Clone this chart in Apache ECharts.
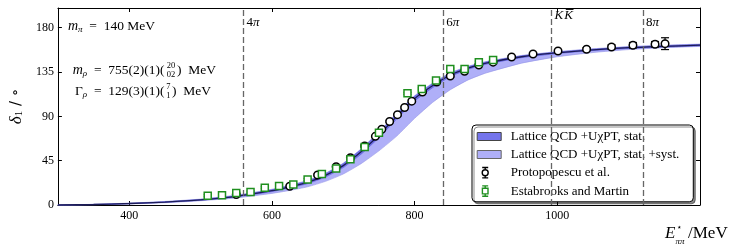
<!DOCTYPE html>
<html><head><meta charset="utf-8">
<script src="https://cdn.jsdelivr.net/npm/echarts@6/dist/echarts.min.js"></script>
<style>html,body{margin:0;padding:0;background:#fff}#c{width:742px;height:247px}</style>
</head><body><div id="c"></div>
<script>
// ---- data ----
const energies = [300,350,400,450,500,550,600,625,650,675,700,725,750,775,800,825,850,875,900,950,1000,1050,1100,1150,1200];
const central  = [0,0.5,1.5,3,5.2,8.8,14.5,18.5,23,30,40,54,71,90,108,121,132,139,144,150.5,154.5,157.5,159.7,161.1,162.3];
const statLow  = [0,0.4,1.3,2.7,4.8,8.2,13.6,17.4,21.7,28.4,38,51.6,68.4,87.4,105.6,119,130.4,137.7,142.9,149.6,153.7,156.8,159,160.4,161.6];
const statHigh = [0,0.6,1.7,3.3,5.6,9.4,15.4,19.6,24.3,31.6,42,56.4,73.6,92.6,110.4,123,133.6,140.3,145.1,151.4,155.3,158.2,160.4,161.8,163];
const systLow  = [0,0.3,1.1,2.3,4.3,7.2,11.8,14.8,18.5,24,31.5,42,55,70,88,104,117,127,134,144,150.5,154.8,157.8,159.7,161];
const systHigh = [0,0.7,1.9,3.6,6,10,16,20.2,25,32.3,42.5,57,74.3,93.3,111,123.7,134.2,140.8,145.6,151.8,155.7,158.6,160.8,162.2,163.4];

const protoE   = [550,625,664,690,710,730,745,754,765,776,786,796,811,831,850,870,890,910,936,966,1001,1041,1076,1106,1137,1151];
const protoD   = [10.7,19,30.5,38.9,48,59.9,69.7,76.9,84.8,91.7,99,105.4,114.7,124.9,131,135.7,142.1,145,150.3,153.3,156.3,158.1,160.4,162.2,163.2,163.8];
const protoErr = [1,1,1,1,1,1,1,1,1,1,1,1,1,1,1,1,1,1,1,1,1,1.5,2.2,2.8,2.8,6];

const estE   = [510,530,550,570,590,610,630,650,670,690,710,730,750,790,810,830,850,870,890,910];
const estD   = [9.4,9.8,12.2,13.2,17.6,19.3,20.8,25.9,31.5,37,46.4,58.9,73.3,113.4,117.8,126.4,138,138,144.9,147.2];
const estErr = [1,1,1,1,1,1,1,1,1,1,1,1,1,1,1,1,1,1,1,1];

const thresholds = [560, 840, 992, 1120];
const thresholdLabels = ['4π', '6π', 'KK̄', '8π'];
const xTicks = [400, 600, 800, 1000];
const yTicks = [0, 45, 90, 135, 180];

const nameStat = 'Lattice QCD +UχPT, stat.';
const nameSyst = 'Lattice QCD +UχPT, stat. +syst.';
const nameProto = 'Protopopescu et al.';
const nameEst = 'Estabrooks and Martin';

// ---- styles ----
const SERIF = "'Liberation Serif', 'DejaVu Serif', serif";
const cDark = '#7474ec', cLight = '#afaff8', cGreen = '#1f8f1f';

const pair = (xs, ys) => xs.map((x, i) => [x, ys[i]]);

function bandRender(lo, hi, fill, edge) {
  return function (params, api) {
    if (params.dataIndex !== 0) return null;
    const top = energies.map((e, i) => api.coord([e, hi[i]]));
    const bot = energies.map((e, i) => api.coord([e, lo[i]]));
    return { type: 'group', children: [
      { type: 'polygon', shape: { points: top.concat(bot.slice().reverse()) }, style: { fill: fill, stroke: 'none' } },
      { type: 'polyline', shape: { points: top, smooth: 0.2 }, style: { fill: 'none', stroke: edge, lineWidth: 0.6 } },
      { type: 'polyline', shape: { points: bot, smooth: 0.2 }, style: { fill: 'none', stroke: edge, lineWidth: 0.6 } }
    ]};
  };
}

function errRender(color) {
  return function (params, api) {
    const x = api.value(0), y = api.value(1), e = api.value(2);
    const hi = api.coord([x, y + e]), lo = api.coord([x, y - e]);
    const w = 4, st = { stroke: color, lineWidth: 1.2 };
    return { type: 'group', children: [
      { type: 'line', shape: { x1: hi[0], y1: hi[1], x2: lo[0], y2: lo[1] }, style: st },
      { type: 'line', shape: { x1: hi[0] - w, y1: hi[1], x2: hi[0] + w, y2: hi[1] }, style: st },
      { type: 'line', shape: { x1: lo[0] - w, y1: lo[1], x2: lo[0] + w, y2: lo[1] }, style: st }
    ]};
  };
}

// threshold labels: drawn next to the top of each dashed line
function thrRender(params, api) {
  const x = api.value(0);
  const lab = thresholdLabels[params.dataIndex];
  const topPt = api.coord([x, 200]);
  const px = topPt[0] + 3;
  const font = { fontFamily: SERIF, fontSize: 13, fill: '#000' };
  const children = [];
  if (lab.indexOf('K') >= 0) {
    const py = topPt[1] + 8;
    const kW = 8.7;
    children.push({ type: 'text', x: px, y: py, style: Object.assign({ text: 'K', fontStyle: 'italic', verticalAlign: 'middle' }, font) });
    children.push({ type: 'text', x: px + kW + 1, y: py, style: Object.assign({ text: 'K', fontStyle: 'italic', verticalAlign: 'middle' }, font) });
    children.push({ type: 'line', shape: { x1: px + kW + 2.5, y1: py - 6.5, x2: px + 2 * kW + 1.5, y2: py - 6.5 }, style: { stroke: '#000', lineWidth: 0.9 } });
  } else {
    const py = topPt[1] + 14.5;
    children.push({ type: 'text', x: px, y: py, style: Object.assign({
      text: '{n|' + lab.replace(/[^0-9]/g, '') + '}{i|' + lab.replace(/[0-9]/g, '') + '}', verticalAlign: 'middle',
      rich: { n: Object.assign({}, font), i: Object.assign({ fontStyle: 'italic' }, font) } }, font) });
  }
  return { type: 'group', children: children };
}

const axisLineStyle = { color: '#000', width: 1 };
const commonX = { type: 'value', min: 300, max: 1200, splitLine: { show: false } };
const commonY = { type: 'value', min: 0, max: 200, splitLine: { show: false } };

const iconBand = 'path://M0,0 M25,12 M0.5,2 L24.5,2 L24.5,10 L0.5,10 Z';
const iconErrCircle = 'path://M0,0 M25,12 M5.5,0.8 L11.5,0.8 M8.5,0.8 L8.5,3 M11.5,6 A3,3 0 1 1 5.5,6 A3,3 0 1 1 11.5,6 Z M8.5,9 L8.5,11.2 M5.5,11.2 L11.5,11.2';
const iconErrSquare = 'path://M0,0 M25,12 M5.5,0.8 L11.5,0.8 M8.5,0.8 L8.5,3 M5.7,3.2 L11.3,3.2 L11.3,8.8 L5.7,8.8 Z M8.5,9 L8.5,11.2 M5.5,11.2 L11.5,11.2';

const chart = echarts.init(document.getElementById('c'), null, { renderer: 'canvas' });

const option = {
  animation: false,
  backgroundColor: '#fff',
  grid: { left: 54, right: 42, top: 8, bottom: 42, show: false },
  xAxis: [
    Object.assign({}, commonX, {
      position: 'bottom',
      axisLine: { show: true, onZero: false, lineStyle: axisLineStyle },
      axisTick: { show: true, inside: true, length: 4, customValues: xTicks, lineStyle: { color: '#000' } },
      axisLabel: { customValues: xTicks, formatter: v => String(v), color: '#000', fontFamily: SERIF, fontSize: 12, margin: 5 }
    }),
    Object.assign({}, commonX, {
      position: 'top',
      axisLine: { show: true, onZero: false, lineStyle: axisLineStyle },
      axisTick: { show: true, inside: true, length: 4, customValues: xTicks, lineStyle: { color: '#000' } },
      axisLabel: { show: false }
    })
  ],
  yAxis: [
    Object.assign({}, commonY, {
      position: 'left',
      axisLine: { show: true, onZero: false, lineStyle: axisLineStyle },
      axisTick: { show: true, inside: true, length: 4, customValues: yTicks, lineStyle: { color: '#000' } },
      axisLabel: { customValues: yTicks, formatter: v => String(v), color: '#000', fontFamily: SERIF, fontSize: 12, margin: 4 },
      name: '{d|δ}{s|1}{n| / ∘}',
      nameLocation: 'middle',
      nameRotate: 90,
      nameGap: 30,
      nameTextStyle: {
        rich: {
          d: { fontFamily: SERIF, fontStyle: 'italic', fontSize: 17, color: '#000' },
          s: { fontFamily: SERIF, fontSize: 11, color: '#000', verticalAlign: 'bottom', lineHeight: 10 },
          n: { fontFamily: "'DejaVu Serif', serif", fontSize: 15, color: '#000' }
        }
      }
    }),
    Object.assign({}, commonY, {
      position: 'right',
      axisLine: { show: true, onZero: false, lineStyle: axisLineStyle },
      axisTick: { show: true, inside: true, length: 4, customValues: yTicks, lineStyle: { color: '#000' } },
      axisLabel: { show: false }
    })
  ],
  legend: {
    orient: 'vertical',
    left: 472, top: 125,
    padding: [5, 14, 4, 4],
    itemWidth: 25, itemHeight: 12, itemGap: 5,
    backgroundColor: '#fff',
    borderColor: '#000', borderWidth: 1, borderRadius: 4,
    shadowColor: 'rgba(0,0,0,0.45)', shadowBlur: 0, shadowOffsetX: 2, shadowOffsetY: 2,
    selectedMode: false,
    textStyle: { fontFamily: SERIF, fontSize: 13, color: '#000', padding: [0, 0, 0, 4] },
    data: [
      { name: nameStat, icon: iconBand, itemStyle: { color: cDark, borderColor: '#444', borderWidth: 1 } },
      { name: nameSyst, icon: iconBand, itemStyle: { color: cLight, borderColor: '#666', borderWidth: 1 } },
      { name: nameProto, icon: iconErrCircle, itemStyle: { color: '#fff', borderColor: '#000', borderWidth: 1.4 } },
      { name: nameEst, icon: iconErrSquare, itemStyle: { color: '#fff', borderColor: cGreen, borderWidth: 1.4 } }
    ]
  },
  graphic: [
    { type: 'text', x: 68, y: 26, style: {
        text: '{i|m}{s|π}{n|  =  140 MeV}', verticalAlign: 'middle',
        rich: {
          i: { fontFamily: SERIF, fontStyle: 'italic', fontSize: 14, fill: '#000', lineHeight: 16 },
          s: { fontFamily: SERIF, fontStyle: 'italic', fontSize: 9, fill: '#000', verticalAlign: 'bottom', lineHeight: 8 },
          n: { fontFamily: SERIF, fontSize: 13.5, fill: '#000', lineHeight: 16 }
        } } },
    { type: 'text', x: 164.5, y: 70, style: {
        text: '{i|m}{s|ρ}{n|  =  755(2)(1)(}', align: 'right', verticalAlign: 'middle',
        rich: {
          i: { fontFamily: SERIF, fontStyle: 'italic', fontSize: 14, fill: '#000', lineHeight: 16 },
          s: { fontFamily: SERIF, fontStyle: 'italic', fontSize: 9, fill: '#000', verticalAlign: 'bottom', lineHeight: 8 },
          n: { fontFamily: SERIF, fontSize: 13.5, fill: '#000', lineHeight: 16 }
        } } },
    { type: 'text', x: 171, y: 66, style: { text: '20', align: 'center', verticalAlign: 'middle', fontFamily: SERIF, fontSize: 8.5, fill: '#000' } },
    { type: 'text', x: 171, y: 75, style: { text: '02', align: 'center', verticalAlign: 'middle', fontFamily: SERIF, fontSize: 8.5, fill: '#000' } },
    { type: 'text', x: 177, y: 70, style: { text: ')  MeV', verticalAlign: 'middle', fontFamily: SERIF, fontSize: 13.5, fill: '#000' } },
    { type: 'text', x: 164.5, y: 91, style: {
        text: '{n|Γ}{s|ρ}{n|  =  129(3)(1)(}', align: 'right', verticalAlign: 'middle',
        rich: {
          s: { fontFamily: SERIF, fontStyle: 'italic', fontSize: 9, fill: '#000', verticalAlign: 'bottom', lineHeight: 8 },
          n: { fontFamily: SERIF, fontSize: 13.5, fill: '#000', lineHeight: 16 }
        } } },
    { type: 'text', x: 168.3, y: 87, style: { text: '7', align: 'center', verticalAlign: 'middle', fontFamily: SERIF, fontSize: 8.5, fill: '#000' } },
    { type: 'text', x: 168.3, y: 96, style: { text: '1', align: 'center', verticalAlign: 'middle', fontFamily: SERIF, fontSize: 8.5, fill: '#000' } },
    { type: 'text', x: 172, y: 91, style: { text: ')  MeV', verticalAlign: 'middle', fontFamily: SERIF, fontSize: 13.5, fill: '#000' } },
    // x-axis name
    { type: 'text', x: 665, y: 234, style: { text: 'E', verticalAlign: 'middle', fontFamily: SERIF, fontStyle: 'italic', fontSize: 17, fill: '#000' } },
    { type: 'text', x: 676.5, y: 228, style: { text: '⋆', verticalAlign: 'middle', fontFamily: "'DejaVu Sans', sans-serif", fontSize: 9, fill: '#000' } },
    { type: 'text', x: 675.5, y: 242, style: { text: 'ππ', verticalAlign: 'middle', fontFamily: SERIF, fontStyle: 'italic', fontSize: 9, fill: '#000' } },
    { type: 'text', x: 688, y: 234, style: { text: '/MeV', verticalAlign: 'middle', fontFamily: SERIF, fontSize: 17, fill: '#000' } }
  ],
  series: [
    { name: nameSyst, type: 'custom', renderItem: bandRender(systLow, systHigh, cLight, '#9494e6'),
      data: pair(energies, central), encode: { x: 0, y: 1 }, itemStyle: { color: cLight }, silent: true, z: 1 },
    { name: nameStat, type: 'custom', renderItem: bandRender(statLow, statHigh, cDark, '#5a5ad8'),
      data: pair(energies, central), encode: { x: 0, y: 1 }, itemStyle: { color: cDark }, silent: true, z: 2 },
    { type: 'line', data: pair(energies, central), symbol: 'none', smooth: 0.3,
      lineStyle: { width: 1.3, color: '#1c1c58' }, silent: true, z: 3,
      markLine: { silent: true, symbol: 'none', label: { show: false },
        lineStyle: { type: [6, 3], color: '#666', width: 1.3 },
        data: thresholds.map(t => ({ xAxis: t })) } },
    { type: 'custom', renderItem: thrRender, data: thresholds.map(t => [t, 200]),
      encode: { x: 0, y: 1 }, silent: true, z: 4 },
    { type: 'custom', renderItem: errRender('#000'), data: protoE.map((e, i) => [e, protoD[i], protoErr[i]]),
      encode: { x: 0, y: 1 }, silent: true, z: 5 },
    { name: nameProto, type: 'scatter', data: pair(protoE, protoD), symbol: 'circle', symbolSize: 7.5,
      itemStyle: { color: '#fff', borderColor: '#000', borderWidth: 1.5, opacity: 1 }, silent: true, z: 6 },
    { type: 'custom', renderItem: errRender(cGreen), data: estE.map((e, i) => [e, estD[i], estErr[i]]),
      encode: { x: 0, y: 1 }, silent: true, z: 7 },
    { name: nameEst, type: 'scatter', data: pair(estE, estD), symbol: 'rect', symbolSize: 7,
      itemStyle: { color: '#fff', borderColor: cGreen, borderWidth: 1.5, opacity: 1 }, silent: true, z: 8 }
  ]
};
chart.setOption(option);
</script>
</body></html>
